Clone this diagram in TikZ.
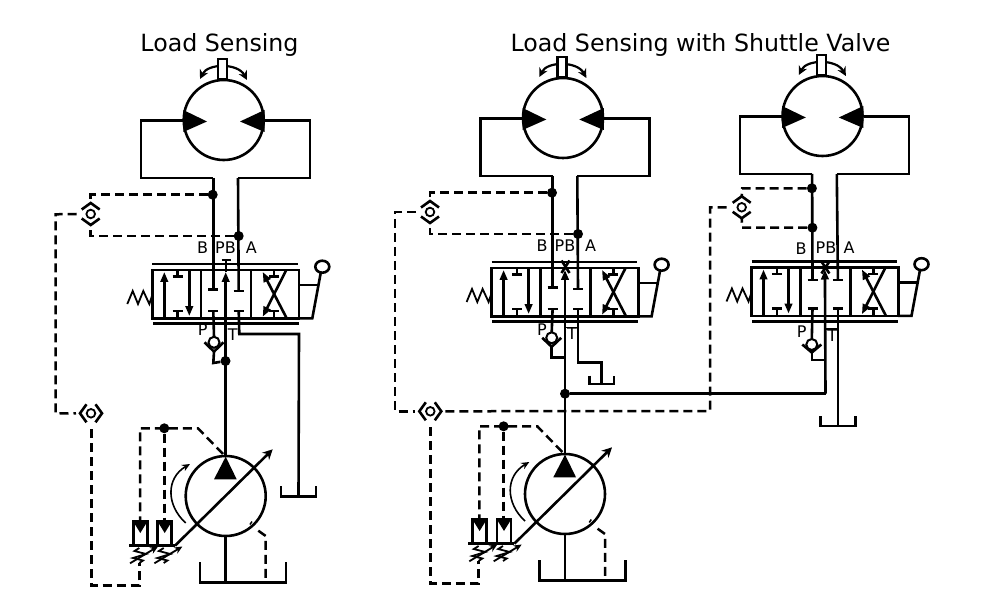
\documentclass[tikz,border=0pt]{standalone}
\usepackage{fontspec}
\setmainfont{DejaVu Sans}
\usetikzlibrary{arrows.meta}
\tikzset{
  ln/.style={line width=2.6pt,line join=miter},
  thin ln/.style={line width=1.6pt},
  dsh/.style={line width=2.5pt,dash pattern=on 9pt off 5pt},
  jdot/.style={circle,fill=black,inner sep=0pt,minimum size=10pt},
  tip/.style={-{Triangle[length=10pt,width=7.5pt]}},
  lab/.style={font=\fontsize{16}{16}\selectfont,anchor=base,inner sep=0pt},
  ttl/.style={font=\fontsize{23.7}{24}\selectfont,anchor=base,inner sep=0pt},
}
\newcommand{\hvalve}[2]{%
  \draw[ln] (152.3,270) rectangle (299,318.3);
  \draw[ln] (201,270) -- (201,318.3) (251,270) -- (251,318.3);
  \draw[ln] (152.3,264) -- (298,264) (153,323.7) -- (299,323.7);
  % left cell
  \draw[ln,tip] (164.3,318.3) -- (164.3,272);
  \draw[ln,tip] (189.3,270) -- (189.3,316);
  \draw[ln] (172.7,276.7) -- (182.7,276.7) (177.7,270) -- (177.7,276.7);
  \draw[ln] (172.7,311) -- (182.7,311) (177.7,311) -- (177.7,318.3);
  % middle cell
  \coordinate (vB) at (213.3,#1);
  \coordinate (vA) at (238.7,#2);
  \coordinate (vP) at (213.3,311);
  \coordinate (vT) at (238.7,311);
  \coordinate (vC) at (225.7,272);
  \draw[ln] (208.3,#1) -- (218.3,#1) (233.7,#2) -- (243.7,#2);
  \draw[ln] (208.3,311) -- (218.3,311) (233.7,311) -- (243.7,311);
  % right cell
  \draw[ln,tip] (286.7,318.3) -- (262.7,272);
  \draw[ln,tip] (286,270.5) -- (262.7,316.7);
  \draw[ln] (269,276.7) -- (279,276.7) (274,270) -- (274,276.7);
  \draw[ln] (269,311) -- (279,311) (274,311) -- (274,318.3);
  % lever
  \draw[ln] (299,285) -- (319.3,285);
  \draw[ln] (299,318.3) -- (312.3,318.3) -- (320.7,273);
  \draw[ln,fill=white] (322.3,266.7) ellipse (7pt and 6pt);
  % spring
  \draw[line width=1.8pt] (127.3,304) -- (132.7,291) -- (138,304) -- (143.3,291) -- (149.3,304) -- (152.3,295);
}
\newcommand{\hmotor}{%
  \coordinate (mB) at (213.3,178);
  \coordinate (mA) at (238,178);
  \draw[ln] (183,120.7) -- (141,120.7) -- (141,178) -- (mB);
  \draw[ln] (265,120.7) -- (310,120.7) -- (310,178) -- (mA);
  \draw[line width=2.2pt,{Stealth[length=9pt,width=9pt]}-{Stealth[length=9pt,width=9pt]}] (200,79) .. controls (208,63) and (238,63) .. (247,80);
  \draw[ln,fill=white] (218,59) rectangle (227,79);
  \draw[ln,fill=white] (223.7,120) circle (40pt);
  \fill (183.3,110) -- (207,121.5) -- (183.3,132) -- cycle;
  \fill (264.5,110) -- (240,121.5) -- (264.5,132) -- cycle;
}
% shuttle valve: #1 full name, #2 position, #3 rotation
\newcommand{\hshuttle}[3]{%
  \begin{scope}[shift={#2},rotate=#3,name prefix=#1-]
    \draw[line width=1.8pt] (0,0) circle (4.3pt);
    \draw[ln] (-9,-4.5) -- (0,-11) -- (9,-4.5);
    \draw[ln] (-9,4.5) -- (0,11) -- (9,4.5);
    \coordinate (n) at (0,-11);
    \coordinate (s) at (0,11);
    \coordinate (nn) at (0,-15);
    \coordinate (ss) at (0,15);
    \coordinate (w) at (-14,0);
  \end{scope}
}
% check valve: #1 full name, #2 centre, #3 drop to chevron bottom
\newcommand{\hcheck}[3]{%
  \begin{scope}[shift={#2},name prefix=#1-]
    \draw[line width=2pt] (0,0) circle (5.5pt);
    \draw[ln] (-9.5,0) -- (0,#3) -- (9.5,0);
    \coordinate (b) at (0,#3);
    \coordinate (t) at (0,-5.5);
  \end{scope}
}
\newcommand{\htank}[4]{%
  \draw[ln] ({#1-#4},#2) -- ({#1-#4},#3) -- ({#1+#4},#3) -- ({#1+#4},#2);
}
\newcommand{\hcomp}[1]{%
  \begin{scope}[shift={(#1,0)}]
    \draw[ln,fill=white] (133.3,521.7) rectangle (147.3,545.7);
    \fill (133.3,521.7) -- (147.3,521.7) -- (140.3,533) -- cycle;
    \draw[line width=1.8pt] (139.3,548) -- (134.5,551) -- (146,554) -- (133,558) -- (143,560.5) -- (139.3,563);
    \draw[line width=1.8pt,-{Stealth[length=8pt,width=7pt]}] (130,563.3) -- (158,546.5);
  \end{scope}
}
% #1 circuit prefix
\newcommand{\hpump}[1]{%
  \coordinate (pT) at (225.7,457);
  \node[jdot] (pd) at (164.3,428.3) {};
  \coordinate (pc) at (223,454);
  \draw[dsh] (pc) -- (198,428.3) -- (140,428.3) -- (140,521.7);
  \draw[dsh] (pd) -- (164.3,521.7);
  \draw[ln,fill=white] (225.7,496) circle (40pt);
  \fill (225.7,456.7) -- (214,479.3) -- (236.7,479.3) -- cycle;
  \hcomp{0}\hcomp{24.4}
  \draw[ln] (129,545.7) -- (175,545.7);
  \draw[ln,-{Stealth[length=10pt,width=10pt]}] (175,545.7) -- (272.7,449.3);
  \draw[thin ln,-{Stealth[length=8pt,width=7pt]}] (185.7,523) .. controls (166,505) and (166,478) .. (190,464);
  \draw[ln] (225.7,536) -- (225.7,582.3);
  \htank{243}{562.3}{582.3}{43}
  \draw[line width=1.5pt] (250,524.5) -- (252,521.5);
  \draw[dsh] (258.3,530.7) -- (265.7,536) -- (265.7,582.3);
  \hshuttle{#1-ps}{(91,413.3)}{90}
  \draw[dsh] (91.3,429) -- (91.3,585.7) -- (139.3,585.7) -- (139.3,563);
}
\begin{document}
\begin{tikzpicture}[x=1pt,y=-1pt]
\useasboundingbox (0,0) rectangle (1000,609);
\fill[white] (0,0) rectangle (1000,609);

\node[ttl] (title1) at (219.5,52) {Load Sensing};
\node[ttl] (title2) at (700.5,52) {Load Sensing with Shuttle Valve};

% ---- left circuit ----
\begin{scope}[name prefix=L-]
  \hmotor
  \hvalve{289.3}{291}
  \hpump{L}
  \hcheck{L-ck}{(214,342.3)}{9.3}
  \hshuttle{L-us}{(90.7,214)}{0}
  \node[jdot] (d1) at (212.7,194.7) {};
  \node[jdot] (d2) at (238.7,236) {};
  \node[jdot] (d3) at (225.5,361) {};
  \draw[ln] (mB) -- (vB);
  \draw[ln] (mA) -- (vA);
  \draw[ln] (vP) -- (ck-t);
  \draw[ln] (ck-b) -- (213.3,363) -- (d3);
  \draw[ln,tip] (pT) -- (vC);
  \draw[ln] (221.7,260) -- (230.7,260) (226,260) -- (226,272);
  \draw[ln] (vT) -- (239.3,334) -- (299,334) -- (298.5,496.7);
  \htank{298.5}{486}{496.7}{17.5}
  \draw[dsh] (d1) -- (90.7,194.7) -- (us-n);
  \draw[dsh] (d2) -- (90.7,236) -- (us-s);
  \draw[dsh] (us-w) -- (55.7,214.3) -- (55.7,413.5) -- (ps-nn);
  \node[lab] (lB) at (202.7,254) {B};
  \node[lab] (lPB) at (225.5,254) {PB};
  \node[lab] (lA) at (251.3,254) {A};
  \node[lab] (lP) at (202.7,335.5) {P};
  \node[lab] (lT) at (232.7,340) {T};
\end{scope}

% ---- middle circuit ----
\begin{scope}[shift={(339.3,-2)},name prefix=M-]
  \hmotor
  \hvalve{289.3}{291}
  \hpump{M}
  \hcheck{M-ck}{(212.4,339.8)}{9}
  \hshuttle{M-us}{(90.7,214)}{0}
  \node[jdot] (d1) at (212.7,194.7) {};
  \node[jdot] (d2) at (238.7,236) {};
  \node[jdot] (d3) at (225.7,395.7) {};
  \draw[ln] (mB) -- (vB);
  \draw[ln] (mA) -- (vA);
  \draw[ln] (vP) -- (ck-t);
  \draw[ln] (ck-b) -- (212.4,359.7) -- (225.7,359.7);
  \draw[ln,tip] (pT) -- (vC);
  \draw[ln] (222.2,262.5) -- (230.2,275) (230.2,262.5) -- (222.2,275);
  \draw[line width=1.8pt] (225.7,329.5) -- (238.7,329.5);
  \draw[ln] (vT) -- (238.7,364.7) -- (262.4,364.7) -- (262.4,386);
  \htank{262.4}{377.7}{386}{12.3}
  \draw[dsh] (d1) -- (90.7,194.7) -- (us-n);
  \draw[dsh] (d2) -- (90.7,236) -- (us-s);
  \draw[dsh] (us-w) -- (55.7,214) -- (55.7,413.3) -- (ps-nn);
  \node[lab] (lB) at (202.7,254) {B};
  \node[lab] (lPB) at (225.7,254) {PB};
  \node[lab] (lA) at (251.3,254) {A};
  \node[lab] (lP) at (202.7,337) {P};
  \node[lab] (lT) at (232.7,341) {T};
\end{scope}

% ---- right circuit ----
\begin{scope}[shift={(598.8,-4)},name prefix=R-]
  \hmotor
\end{scope}
\begin{scope}[shift={(599.2,-2.5)},name prefix=R-]
  \hvalve{282.5}{282.5}
  \hcheck{R-ck}{(212.6,347)}{8}
  \hshuttle{R-us}{(142.5,209.8)}{0}
  \node[jdot] (d1) at (212.7,190.8) {};
  \node[jdot] (d2) at (213.2,230.2) {};
  \coordinate (rc) at (226.3,396.2);
  \draw[ln] (mB) -- (vB);
  \draw[ln] (mA) -- (vA);
  \draw[ln] (vP) -- (ck-t);
  \draw[ln] (ck-b) -- (212.6,362.5) -- (226.3,362.5);
  \draw[ln,tip] (rc) -- (vC);
  \draw[ln] (222.2,264) -- (230.2,276) (230.2,264) -- (222.2,276);
  \draw[line width=1.8pt] (226.3,331.5) -- (238.7,331.5);
  \draw[ln] (vT) -- (238.7,428.5);
  \htank{238.7}{418.5}{428.5}{17.7}
  \draw[dsh] (d1) -- (143,190.8) -- (us-n);
  \draw[dsh] (d2) -- (143,230.2) -- (us-s);
  \node[lab] (lB) at (201.8,257.5) {B};
  \node[lab] (lPB) at (226.8,256.5) {PB};
  \node[lab] (lA) at (249.8,256) {A};
  \node[lab] (lP) at (202.5,339.5) {P};
  \node[lab] (lT) at (233,343.5) {T};
\end{scope}

% links between circuits
\draw[ln] (M-d3) -- (R-rc);
\draw[dsh] (M-ps-ss) -- (710,411) -- (710,207.3) -- (R-us-w);
\end{tikzpicture}
\end{document}
